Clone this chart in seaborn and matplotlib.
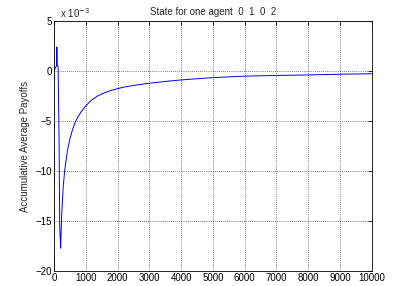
import numpy as np
import pandas as pd
import seaborn as sns
import matplotlib
matplotlib.use("Agg")
import matplotlib.pyplot as plt

steps = [0, 40, 80, 90, 100, 130, 160, 180, 200, 210, 240, 290, 335, 420,
         500, 580, 660, 735, 850, 970, 1150, 1370, 1580, 1790, 2150, 2500,
         3000, 3500, 4000, 4500, 5000, 6000, 7000, 8000, 9000, 10000]
payoff_e3 = [0, 0.3, 0.5, 2.4, 0.6, 0.4, -7.0, -15.5, -17.0, -17.7, -14.5,
             -11.6, -10.0, -8.0, -6.8, -5.9, -5.2, -4.7, -4.1, -3.6, -3.0,
             -2.5, -2.2, -1.95, -1.65, -1.45, -1.23, -1.05, -0.9, -0.78,
             -0.67, -0.52, -0.45, -0.4, -0.33, -0.28]
x_ticks = list(range(0, 10001, 1000))
y_ticks = [-20, -15, -10, -5, 0, 5]

df = pd.DataFrame({"step": steps, "payoff": payoff_e3})

sns.set_theme(style="white")
plt.rcParams["font.family"] = ["Liberation Sans", "DejaVu Sans"]
plt.rcParams["xtick.direction"] = "in"
plt.rcParams["ytick.direction"] = "in"

fig = plt.figure(figsize=(4.09, 2.86), dpi=100)
ax = fig.add_axes([0.132, 0.052, 0.777, 0.875])

sns.lineplot(data=df, x="step", y="payoff", sort=False, estimator=None,
             color="#0000ff", linewidth=0.7, ax=ax)

ax.set_xlim(0, 10000)
ax.set_ylim(-20, 5)
ax.set_xticks(x_ticks)
ax.set_yticks(y_ticks)
ax.text(0.02, 1.005, r"x 10$^{-3}$", transform=ax.transAxes, fontsize=7,
        ha="left", va="bottom")

ax.grid(True, color="black", linestyle=(0, (1, 2)), linewidth=0.5)
ax.tick_params(labelsize=7, length=3, width=0.6, top=True, right=True,
               colors="black", pad=1.5)
for s in ax.spines.values():
    s.set_color("black")
    s.set_linewidth(0.6)

ax.set_xlabel("")
ax.set_ylabel("Accumulative Average Payoffs", fontsize=7, labelpad=4)
ax.set_title("State for one agent  0  1  0  2", fontsize=7, pad=4)

fig.savefig("out.png", dpi=100)
